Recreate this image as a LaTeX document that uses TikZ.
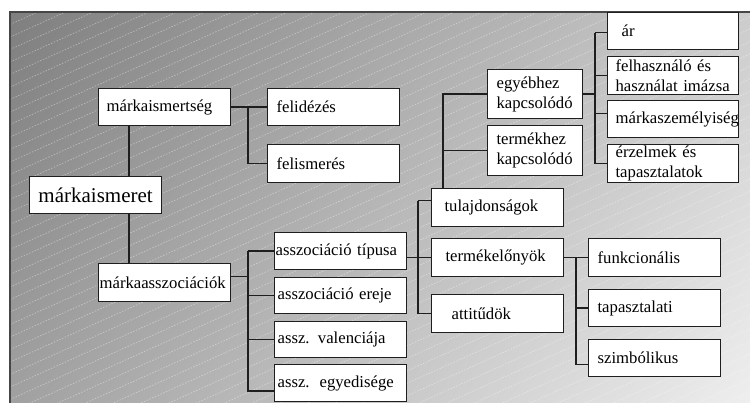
\documentclass[tikz,border=0pt]{standalone}
\usepackage{fontspec}
\setmainfont{Liberation Serif}
\definecolor{bgdark}{RGB}{127,127,127}
\definecolor{bglight}{RGB}{238,238,238}
\definecolor{inkc}{RGB}{30,30,30}
\definecolor{framec}{RGB}{70,70,70}
\pgfdeclarehorizontalshading{bgshade}{100bp}{color(0bp)=(bgdark); color(14.8bp)=(bgdark); color(85.2bp)=(bglight); color(100bp)=(bglight)}
\tikzset{
  bx/.style={draw=inkc, fill=white, line width=1.2pt, inner ysep=0pt, align=left,
    anchor=north west, font=\fontsize{16.7}{20}\selectfont},
  link/.style={draw=inkc, line width=1.3pt},
  stripe/.style={white, opacity=0.35, line width=0.8pt, dash pattern=on 1.5pt off 1.5pt},
}
% box: name, left, top, width, height, left padding, text
\newcommand\bx[7]{%
  \pgfmathsetmacro\bxtw{#4-2*#6}%
  \node[bx, minimum width=#4, minimum height=#5, text width=\bxtw pt, inner xsep=#6pt] (#1) at (#2,#3) {#7};}
\begin{document}
\begin{tikzpicture}[x=1pt, y=-1pt]
\useasboundingbox (0,0) rectangle (750,403);
% shaded, striped backdrop
\shade[shading=bgshade, shading angle=-39.4] (10,12) rectangle (750,403);
\begin{scope}
  \clip (10,12) rectangle (750,403);
  \foreach \i in {0,...,60}
    \draw[stripe] (10,{12+\i*12.5}) -- ++(740,-333);
\end{scope}
\draw[framec, line width=1.5pt] (10,403) -- (10,12) -- (750,12);

% boxes
\node[bx, align=center, minimum width=132, minimum height=37, inner xsep=0pt,
      font=\fontsize{21}{24}\selectfont] (ism) at (29,176) {márkaismeret};
\bx{ismt}{98}{88}{132}{37}{8}{márkaismertség}
\bx{felid}{267}{88}{132}{37}{9}{felidézés}
\bx{felism}{267}{144}{132}{38}{9}{felismerés}
\bx{asz}{98}{263}{132}{38}{1}{márkaasszociációk}
\bx{tip}{274}{232}{132}{37}{1}{asszociáció típusa}
\bx{ere}{274}{277}{132}{36}{3}{asszociáció ereje}
\bx{val}{274}{321}{132}{36}{3}{assz. valenciája}
\bx{egy}{274}{364}{132}{37}{3}{assz.\hspace{0.6em}egyedisége}
\bx{tul}{431}{188}{132}{38}{13}{tulajdonságok}
\bx{elo}{431}{238}{132}{38}{14}{termékelőnyök}
\bx{att}{431}{294}{132}{38}{20}{attitűdök}
\bx{egyeb}{487}{69}{95}{49}{9}{egyébhez\\kapcsolódó}
\bx{term}{487}{125}{95}{50}{9}{termékhez\\kapcsolódó}
\bx{ar}{607}{12}{131}{37}{14}{ár}
\bx{felh}{607}{56}{131}{38}{8}{felhasználó és\\használat imázsa}
\bx{szem}{607}{100}{131}{37}{8}{márkaszemélyiség}
\bx{erz}{607}{144}{131}{38}{8}{érzelmek és\\tapasztalatok}
\bx{fun}{588}{238}{132}{38}{9}{funkcionális}
\bx{tap}{588}{289}{132}{37}{9}{tapasztalati}
\bx{szim}{588}{339}{132}{37}{9}{szimbólikus}

% bus positions
\coordinate (b1) at (248,0);
\coordinate (b2) at (418,0);
\coordinate (b3) at (595,0);
\coordinate (b4) at (576,0);

% connectors
\draw[link] ([xshift=31pt]ismt.south west) -- ([xshift=31pt]ismt.south west |- ism.north);
\draw[link] ([xshift=31pt]asz.north west |- ism.south) -- ([xshift=31pt]asz.north west);

\draw[link] (ismt.east) -- (felid.west);
\draw[link] (ismt.east -| b1) |- (felism.west);

\draw[link] ([yshift=6pt]asz.east) -- ([yshift=6pt]asz.east -| b1);
\draw[link] (tip.west -| b1) -- (tip.west);
\draw[link] (tip.west -| b1) |- ([yshift=-8pt]egy.west);
\draw[link] (ere.west -| b1) -- (ere.west);
\draw[link] (val.west -| b1) -- (val.west);

\draw[link] (tip.east |- elo.west) -- (elo.west);
\draw[link] ([yshift=7pt]tul.west -| b2) -- ([yshift=7pt]tul.west);
\draw[link] ([yshift=7pt]tul.west -| b2) |- (att.west);

\draw[link] ([xshift=12pt]tul.north west) |- (egyeb.west);
\draw[link] ([xshift=12pt]tul.north west |- term.west) -- (term.west);

\draw[link] (egyeb.east) -- (egyeb.east -| b3);
\draw[link] ([yshift=-1.5pt]ar.west -| b3) -- ([yshift=-1.5pt]ar.west);
\draw[link] ([yshift=-1.5pt]ar.west -| b3) |- (erz.west);
\draw[link] (felh.west -| b3) -- (felh.west);
\draw[link] ([yshift=5.5pt]szem.west -| b3) -- ([yshift=5.5pt]szem.west);

\draw[link] (elo.east) -- (fun.west);
\draw[link] (elo.east -| b4) |- ([yshift=-6.5pt]szim.west);
\draw[link] (tap.west -| b4) -- (tap.west);
\end{tikzpicture}
\end{document}
